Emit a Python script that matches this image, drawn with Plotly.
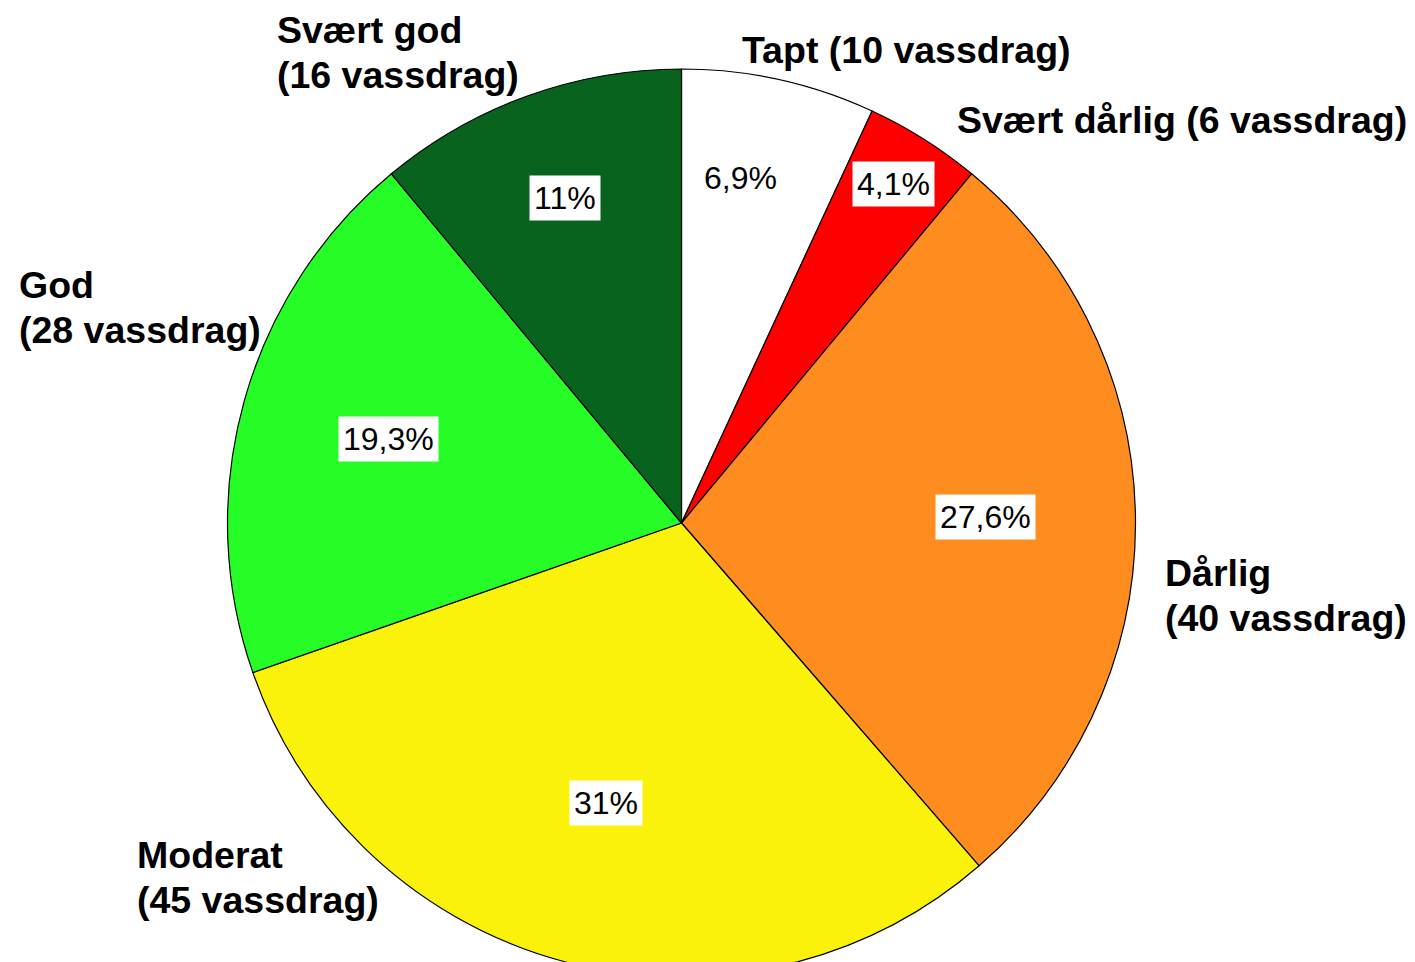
import math
import plotly.graph_objects as go

# ---- data ----
categories = ["Tapt", "Svært dårlig", "Dårlig", "Moderat", "God", "Svært god"]
counts = [10, 6, 40, 45, 28, 16]
pct_labels = ["6,9%", "4,1%", "27,6%", "31%", "19,3%", "11%"]
outer_line1 = ["Tapt (10 vassdrag)", "Svært dårlig (6 vassdrag)", "Dårlig", "Moderat", "God", "Svært god"]
outer_line2 = ["", "", "(40 vassdrag)", "(45 vassdrag)", "(28 vassdrag)", "(16 vassdrag)"]

# ---- style / layout ----
colors = ["#FFFFFF", "#FF0000", "#FF8C1E", "#FAF20A", "#26FC26", "#08631E"]
label_r = [0.765, 0.875, 0.67, 0.645, 0.67, 0.755]      # radial position of % labels
label_dtheta = [-2.6, 0, 0, 0, 0, 0]                     # angular nudge (deg)
outer_x = [740, 955, 1163, 135, 17, 275]                 # px, left edge of text
outer_y = [50, 120, 573, 855, 285, 30]                   # px, first line centre
LINE_PITCH = 45

W, H = 1415, 985
CX, CY, R = 681.5, 523, 454

fig = go.Figure(
    go.Pie(
        labels=categories,
        values=counts,
        sort=False,
        direction="clockwise",
        rotation=0,
        textinfo="none",
        hoverinfo="label+value",
        marker=dict(colors=colors, line=dict(color="#000000", width=1.2)),
        showlegend=False,
        domain=dict(
            x=[(CX - R) / W, (CX + R) / W],
            y=[1 - (CY + R) / H, 1 - (CY - R) / H],
        ),
    )
)

total = sum(counts)
cum = 0
annotations = []
for v, txt, f, dt in zip(counts, pct_labels, label_r, label_dtheta):
    theta = math.radians(360 * (cum + v / 2) / total + dt)
    cum += v
    px = CX + f * R * math.sin(theta)
    py = CY - f * R * math.cos(theta) - 3
    annotations.append(
        dict(
            x=px / W, y=1 - py / H, xref="paper", yref="paper",
            text=txt, showarrow=False, xanchor="center", yanchor="middle",
            bgcolor="#FFFFFF", borderpad=4,
            font=dict(family="Liberation Sans, Arial, sans-serif", size=32, color="#000000"),
        )
    )

bold_font = dict(family="Liberation Sans, Arial, sans-serif", size=37.5, color="#000000")
for l1, l2, px, py in zip(outer_line1, outer_line2, outer_x, outer_y):
    for i, line in enumerate([l1, l2]):
        if not line:
            continue
        annotations.append(
            dict(
                x=px / W, y=1 - (py + i * LINE_PITCH) / H, xref="paper", yref="paper",
                text="<b>" + line + "</b>", showarrow=False,
                xanchor="left", yanchor="middle", align="left",
                font=bold_font,
            )
        )

fig.update_layout(
    width=W, height=H,
    margin=dict(l=0, r=0, t=0, b=0),
    paper_bgcolor="#FFFFFF",
    plot_bgcolor="#FFFFFF",
    annotations=annotations,
)

fig.write_html(
    "out.html",
    config={"displayModeBar": False},
    post_script="document.body.style.margin='0';document.body.style.overflow='hidden';",
)
